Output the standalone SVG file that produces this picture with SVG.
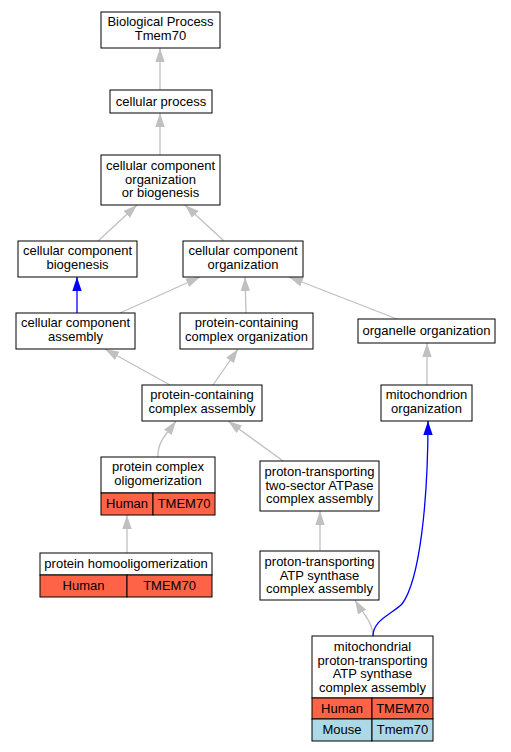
<svg xmlns="http://www.w3.org/2000/svg" width="511" height="752" viewBox="0 0 511 752">
<defs>
<marker id="ag" markerUnits="userSpaceOnUse" markerWidth="14" markerHeight="10" refX="14" refY="5" orient="auto" viewBox="0 0 14 10"><path d="M0,0.3 L14,5 L0,9.7 z" fill="#c0c0c0"/></marker>
<marker id="ab" markerUnits="userSpaceOnUse" markerWidth="14" markerHeight="10" refX="14" refY="5" orient="auto" viewBox="0 0 14 10"><path d="M0,0.3 L14,5 L0,9.7 z" fill="#0000ff"/></marker>
</defs>
<style>
.n{fill:#fff;stroke:#000;stroke-width:1}
.t{font-family:"Liberation Sans",Arial,sans-serif;font-size:13px;fill:#000;text-anchor:middle}
.h{fill:#ff6347;stroke:#000;stroke-width:1}
.m{fill:#add8e6;stroke:#000;stroke-width:1}
.g{fill:none;stroke:#c0c0c0;stroke-width:1.3;marker-end:url(#ag)}
.b{fill:none;stroke:#0000ff;stroke-width:1.3;marker-end:url(#ab)}
</style>
<rect width="511" height="752" fill="#fff"/>
<g id="edges">
<path class="g" d="M160,90 L160,48"/>
<path class="g" d="M160,155 L160,113"/>
<path class="g" d="M98,241 L137,205"/>
<path class="g" d="M224,241 L185,205"/>
<path class="b" d="M77,313 L77,277"/>
<path class="g" d="M120,313 L200,277"/>
<path class="g" d="M246,313 L245,277"/>
<path class="g" d="M397,319 L289,277"/>
<path class="g" d="M170,385 L105,349"/>
<path class="g" d="M213,385 L238,349"/>
<path class="g" d="M427,385 L427,343"/>
<path class="g" d="M158,457 C157,442 168,432 176,421"/>
<path class="g" d="M283,461 L228,421"/>
<path class="g" d="M127,553 L127,515"/>
<path class="g" d="M320,551 L320,511"/>
<path class="g" d="M373,636 C373,622 362,612 355,600"/>
<path class="b" d="M373,636 C373,620 392,614 402,604 C420,580 428,500 428,421"/>
</g>
<g id="n1"><rect class="n" x="101" y="12" width="119" height="36"/><text class="t" x="160.5" y="25.5">Biological Process</text><text class="t" x="160.5" y="39.5">Tmem70</text></g>
<g id="n2"><rect class="n" x="110" y="90" width="102" height="23"/><text class="t" x="161" y="106">cellular process</text></g>
<g id="n3"><rect class="n" x="101" y="155" width="119" height="50"/><text class="t" x="160.5" y="170">cellular component</text><text class="t" x="160.5" y="183.5">organization</text><text class="t" x="160.5" y="197">or biogenesis</text></g>
<g id="n4"><rect class="n" x="18" y="241" width="119" height="36"/><text class="t" x="77.5" y="255">cellular component</text><text class="t" x="77.5" y="269">biogenesis</text></g>
<g id="n5"><rect class="n" x="183" y="241" width="120" height="36"/><text class="t" x="243" y="255">cellular component</text><text class="t" x="243" y="269">organization</text></g>
<g id="n6"><rect class="n" x="16" y="313" width="119" height="36"/><text class="t" x="75.5" y="327">cellular component</text><text class="t" x="75.5" y="341">assembly</text></g>
<g id="n7"><rect class="n" x="180" y="313" width="133" height="36"/><text class="t" x="246.5" y="327">protein-containing</text><text class="t" x="246.5" y="341">complex organization</text></g>
<g id="n8"><rect class="n" x="358" y="319" width="137" height="24"/><text class="t" x="426.5" y="335">organelle organization</text></g>
<g id="n9"><rect class="n" x="142" y="385" width="120" height="36"/><text class="t" x="202" y="399">protein-containing</text><text class="t" x="202" y="413">complex assembly</text></g>
<g id="n10"><rect class="n" x="381" y="385" width="91" height="36"/><text class="t" x="426.5" y="399">mitochondrion</text><text class="t" x="426.5" y="413">organization</text></g>
<g id="n11"><rect class="n" x="101" y="457" width="114" height="36"/><text class="t" x="158" y="471">protein complex</text><text class="t" x="158" y="485">oligomerization</text><rect class="h" x="101" y="493" width="52" height="22"/><rect class="h" x="153" y="493" width="62" height="22"/><text class="t" x="127" y="508">Human</text><text class="t" x="184" y="508">TMEM70</text></g>
<g id="n12"><rect class="n" x="260" y="461" width="119" height="50"/><text class="t" x="319.5" y="476">proton-transporting</text><text class="t" x="319.5" y="489.5">two-sector ATPase</text><text class="t" x="319.5" y="503">complex assembly</text></g>
<g id="n13"><rect class="n" x="40" y="553" width="172" height="22"/><text class="t" x="126" y="568">protein homooligomerization</text><rect class="h" x="40" y="575" width="87" height="22"/><rect class="h" x="127" y="575" width="85" height="22"/><text class="t" x="83.5" y="590">Human</text><text class="t" x="169.5" y="590">TMEM70</text></g>
<g id="n14"><rect class="n" x="260" y="551" width="119" height="49"/><text class="t" x="319.5" y="566">proton-transporting</text><text class="t" x="319.5" y="579.5">ATP synthase</text><text class="t" x="319.5" y="593">complex assembly</text></g>
<g id="n15"><rect class="n" x="312" y="636" width="121" height="62"/><text class="t" x="372.5" y="651">mitochondrial</text><text class="t" x="372.5" y="664.5">proton-transporting</text><text class="t" x="372.5" y="678">ATP synthase</text><text class="t" x="372.5" y="691.5">complex assembly</text><rect class="h" x="312" y="698" width="60" height="21"/><rect class="h" x="372" y="698" width="61" height="21"/><text class="t" x="342" y="712.5">Human</text><text class="t" x="402.5" y="712.5">TMEM70</text><rect class="m" x="312" y="719" width="60" height="22"/><rect class="m" x="372" y="719" width="61" height="22"/><text class="t" x="342" y="734">Mouse</text><text class="t" x="402.5" y="734">Tmem70</text></g>
</svg>
